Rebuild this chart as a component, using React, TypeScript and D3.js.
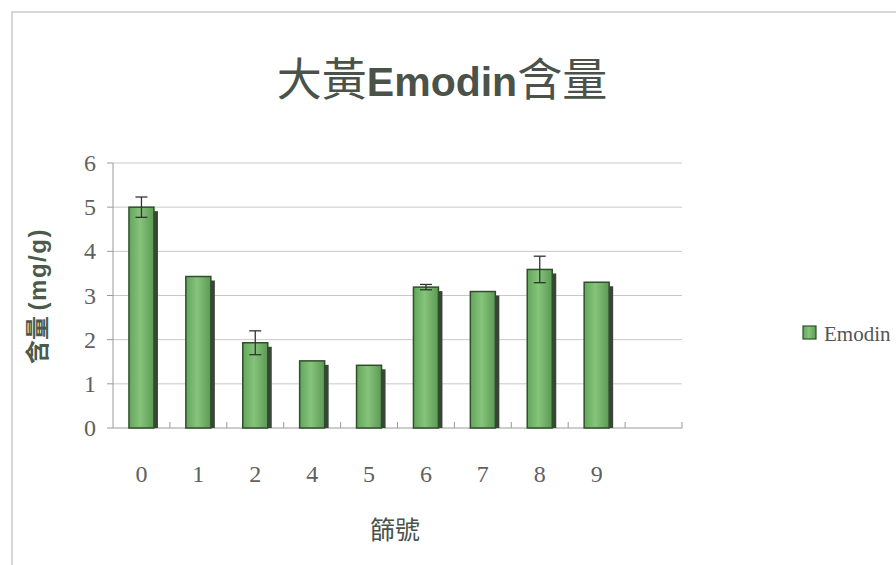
import React from "react";
import * as d3 from "d3";

const categories = ["0", "1", "2", "4", "5", "6", "7", "8", "9", ""];
const values = [5.0, 3.43, 1.93, 1.52, 1.42, 3.19, 3.09, 3.59, 3.3];
const errors = [0.23, 0, 0.27, 0, 0, 0.06, 0, 0.3, 0];
const yTicks = [0, 1, 2, 3, 4, 5, 6];

const W = 896;
const H = 565;
const plot = { left: 113, right: 682, top: 163, bottom: 428 };

export default function App() {
  const x = d3
    .scaleBand<string>()
    .domain(categories.map((c, i) => String(i)))
    .range([plot.left, plot.right]);
  const y = d3.scaleLinear().domain([0, 6]).range([plot.bottom, plot.top]);
  const barW = 25;
  const serif = "'Liberation Serif', 'DejaVu Serif', serif";
  const cjk = "'Noto Sans CJK TC', 'Noto Sans', sans-serif";
  const sans = "'Liberation Sans', Arial, sans-serif";

  return (
    <svg width={W} height={H} style={{ position: "absolute", left: 0, top: 0, background: "#fff" }}>
      <defs>
        <linearGradient id="barGrad" x1="0" x2="1" y1="0" y2="0">
          <stop offset="0" stopColor="#62a65b" />
          <stop offset="0.45" stopColor="#86c47b" />
          <stop offset="1" stopColor="#5c9a55" />
        </linearGradient>
      </defs>
      <rect x={0} y={0} width={W} height={H} fill="#fff" />
      {/* chart border */}
      <rect x={12} y={12} width={W + 20} height={H + 20} fill="none" stroke="#c9c9c9" strokeWidth={1.5} />

      {/* title */}
      <text x={442} y={96} textAnchor="middle" fontSize={45} fill="#4a524a">
        <tspan fontFamily={cjk} fontWeight="normal">大黃</tspan>
        <tspan fontFamily={sans} fontWeight="bold" fontSize={41}>Emodin</tspan>
        <tspan fontFamily={cjk} fontWeight="normal">含量</tspan>
      </text>

      {/* gridlines */}
      {yTicks.slice(1).map((t) => (
        <line key={t} x1={plot.left} x2={plot.right} y1={y(t)} y2={y(t)} stroke="#c8c8c8" strokeWidth={1} />
      ))}

      {/* y axis */}
      <line x1={plot.left} x2={plot.left} y1={plot.top} y2={plot.bottom} stroke="#9a9a9a" strokeWidth={1} />
      {yTicks.map((t) => (
        <g key={t}>
          <line x1={plot.left - 6} x2={plot.left} y1={y(t)} y2={y(t)} stroke="#9a9a9a" />
          <text
            x={90}
            y={y(t) + 8}
            textAnchor="middle"
            fontFamily={serif}
            fontSize={24}
            fill="#606060"
          >
            {t}
          </text>
        </g>
      ))}

      {/* x axis */}
      <line x1={plot.left} x2={plot.right} y1={plot.bottom} y2={plot.bottom} stroke="#9a9a9a" strokeWidth={1} />
      {categories.map((c, i) => {
        const x0 = x(String(i))! + x.bandwidth();
        return (
          <line key={"t" + i} x1={x0} x2={x0} y1={plot.bottom - 6} y2={plot.bottom} stroke="#9a9a9a" />
        );
      })}
      {categories.map((c, i) => (
        <text
          key={"l" + i}
          x={x(String(i))! + x.bandwidth() / 2}
          y={482}
          textAnchor="middle"
          fontFamily={serif}
          fontSize={24}
          fill="#606060"
        >
          {c}
        </text>
      ))}

      {/* bars */}
      {values.map((v, i) => {
        const cx = x(String(i))! + x.bandwidth() / 2;
        const bx = cx - barW / 2;
        const top = y(v);
        return (
          <g key={"b" + i}>
            <rect
              x={bx + 4}
              y={top + 4}
              width={barW}
              height={plot.bottom - top - 4}
              fill="#3a4438"
            />
            <rect
              x={bx}
              y={top}
              width={barW}
              height={plot.bottom - top}
              fill="url(#barGrad)"
              stroke="#2f4f2c"
              strokeWidth={1.5}
            />
          </g>
        );
      })}

      {/* error bars */}
      {values.map((v, i) => {
        const e = errors[i];
        if (!e) return null;
        const cx = x(String(i))! + x.bandwidth() / 2;
        return (
          <g key={"e" + i} stroke="#333" strokeWidth={1.3}>
            <line x1={cx} x2={cx} y1={y(v + e)} y2={y(v - e)} />
            <line x1={cx - 6} x2={cx + 6} y1={y(v + e)} y2={y(v + e)} />
            <line x1={cx - 6} x2={cx + 6} y1={y(v - e)} y2={y(v - e)} />
          </g>
        );
      })}

      {/* y title */}
      <text
        transform="translate(46,296) rotate(-90)"
        textAnchor="middle"
        fontWeight="bold"
        fontSize={24}
        fill="#4b5a4b"
      >
        <tspan fontFamily={cjk}>含量 </tspan>
        <tspan fontFamily={sans} letterSpacing={1.5}>(mg/g)</tspan>
      </text>

      {/* x title */}
      <text x={395} y={539} textAnchor="middle" fontFamily={cjk} fontSize={25} fill="#4a524a">
        篩號
      </text>

      {/* legend */}
      <rect x={803} y={326} width={13} height={13} fill="url(#barGrad)" stroke="#2f4f2c" strokeWidth={1.2} />
      <text x={824} y={341} fontFamily={serif} fontSize={21} fill="#555">
        Emodin
      </text>
    </svg>
  );
}
